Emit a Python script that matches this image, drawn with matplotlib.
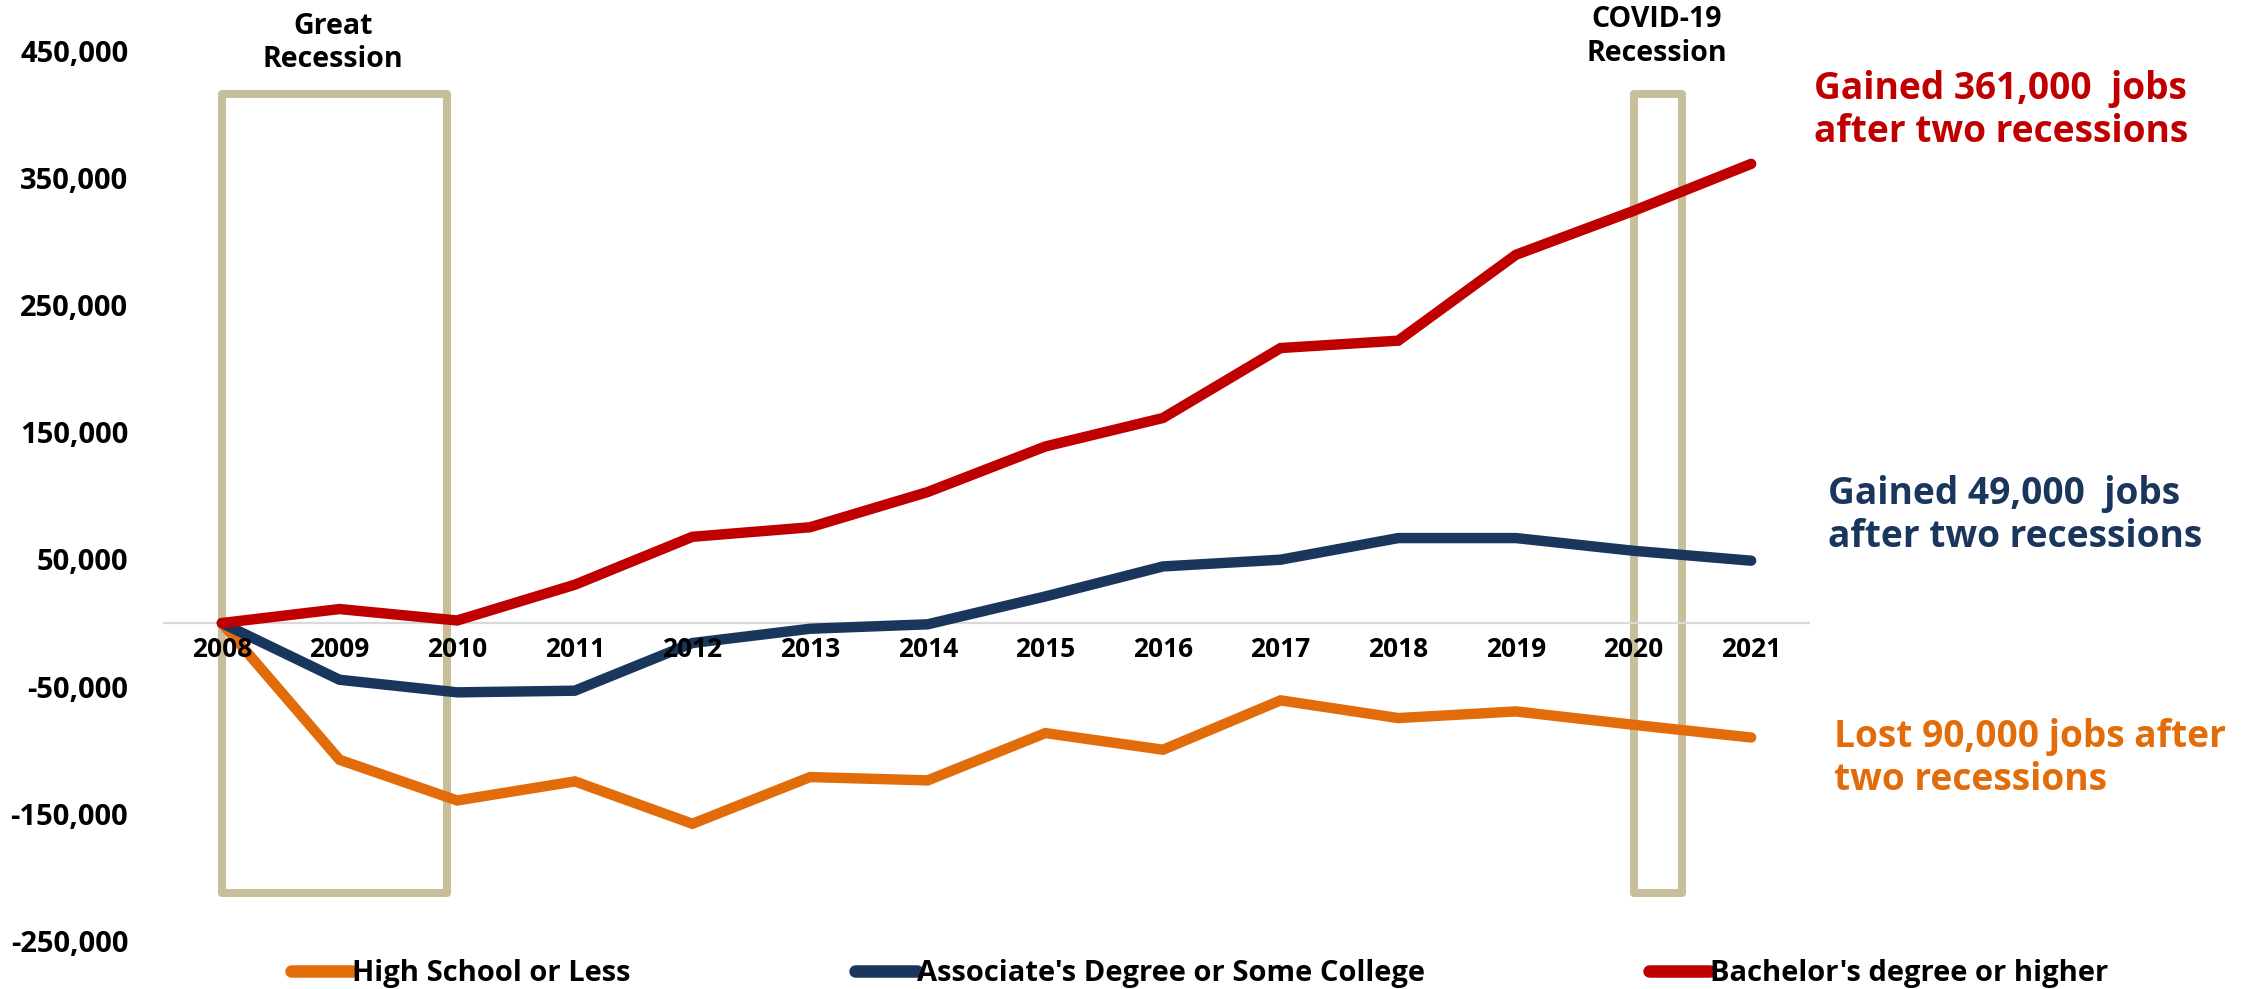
import matplotlib
matplotlib.use("Agg")
import matplotlib.pyplot as plt
from matplotlib.patches import Rectangle
from matplotlib.ticker import FuncFormatter

plt.rcParams['font.family'] = ['Open Sans', 'DejaVu Sans']
plt.rcParams['font.weight'] = 'bold'

# data: change in jobs since 2008
years = list(range(2008, 2022))
high_school = [0, -107500, -139500, -124500, -157800, -121100, -123700,
               -86500, -99600, -60800, -74700, -69500, -80000, -90000]
associate = [0, -44600, -54500, -53200, -15700, -4500, -1000,
             20900, 44500, 49800, 66800, 66800, 56800, 49000]
bachelor = [0, 11000, 2000, 30100, 67800, 75300, 103000,
            138800, 161200, 216200, 222000, 289500, 324000, 361000]

series_names = ["High School or Less", "Associate's Degree or Some College",
                "Bachelor's degree or higher"]
series_colors = ['#E36C0A', '#1B365D', '#C00000']
y_ticks = [-250000, -150000, -50000, 50000, 150000, 250000, 350000, 450000]

box_color = '#C8BF9A'

fig = plt.figure(figsize=(22.49, 9.89), dpi=100)
ax = fig.add_axes([0.0725, 0.0485, 0.7323, 0.9003])

# recession boxes (slide shapes)
ax.add_patch(Rectangle((2008, -212000), 1.91, 628000, fill=False,
                       edgecolor=box_color, linewidth=5.8, joinstyle='round',
                       zorder=0.5))
ax.add_patch(Rectangle((2020, -212000), 0.41, 628000, fill=False,
                       edgecolor=box_color, linewidth=5.8, joinstyle='round',
                       zorder=0.5))

ax.axhline(0, color='#D9D9D9', linewidth=1.6, zorder=1)

for vals, name, col in zip([high_school, associate, bachelor], series_names, series_colors):
    ax.plot(years, vals, color=col, linewidth=7.5, solid_capstyle='round',
            solid_joinstyle='miter', label=name, zorder=2)

ax.set_xlim(2007.5, 2021.5)
ax.set_ylim(-250000, 450000)
ax.set_yticks(y_ticks)
ax.yaxis.set_major_formatter(FuncFormatter(lambda v, p: f"{v:,.0f}"))
ax.set_xticks(years)
ax.set_xticklabels([str(y) for y in years])
for s in ['top', 'right', 'left']:
    ax.spines[s].set_visible(False)
ax.spines['bottom'].set_position(('data', 0))
ax.spines['bottom'].set_visible(False)
ax.xaxis.set_zorder(3)
ax.tick_params(axis='y', length=0, pad=25, labelsize=21)
ax.tick_params(axis='x', length=0, pad=9, labelsize=19)

# recession labels
fig.text(0.148, 0.9565, "Great\nRecession", ha='center', va='center',
         fontsize=20.5, fontweight='bold', linespacing=1.2)
fig.text(0.7368, 0.9631, "COVID-19\nRecession", ha='center', va='center',
         fontsize=20.5, fontweight='bold', linespacing=1.2)

# end annotations
fig.text(0.8066, 0.8883, "Gained 361,000  jobs\nafter two recessions", ha='left',
         va='center', fontsize=26.7, color='#C00000', fontweight='bold', linespacing=1.2)
fig.text(0.8128, 0.4788, "Gained 49,000  jobs\nafter two recessions", ha='left',
         va='center', fontsize=26.7, color='#1B365D', fontweight='bold', linespacing=1.2)
fig.text(0.8155, 0.2331, "Lost 90,000 jobs after\ntwo recessions", ha='left',
         va='center', fontsize=26.7, color='#E36C0A', fontweight='bold', linespacing=1.2)

leg = fig.legend(loc='center left', bbox_to_anchor=(0.1294, 0.0152), ncol=3,
                 frameon=False, fontsize=21, handlelength=2.1, handletextpad=0.0,
                 columnspacing=7.7, borderpad=0, borderaxespad=0)
for line in leg.get_lines():
    line.set_linewidth(9)
    line.set_solid_capstyle('round')

fig.savefig('out.png', dpi=100)
